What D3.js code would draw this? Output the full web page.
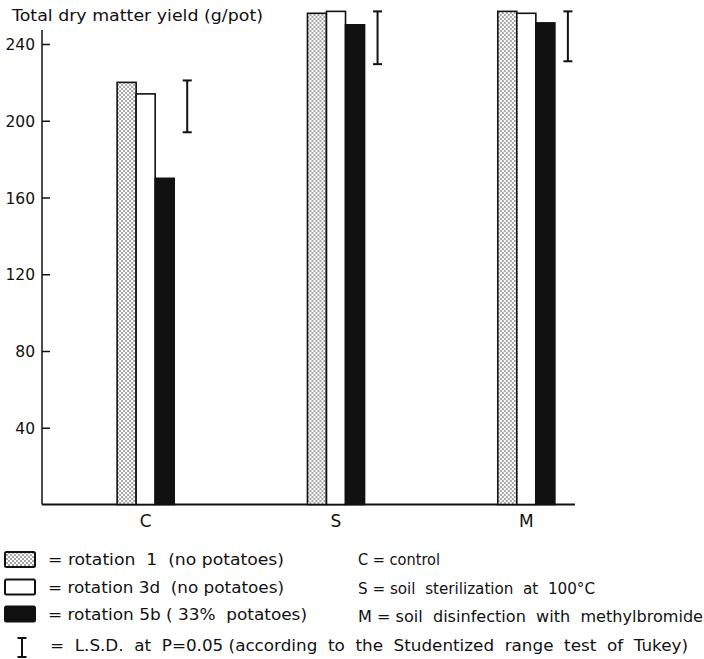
<!DOCTYPE html>
<html>
<head>
<meta charset="utf-8">
<script src="https://cdn.jsdelivr.net/npm/d3@7"></script>
<style>
  body { margin: 0; background: #fff; }
  svg text { font-family: "DejaVu Sans", sans-serif; fill: #111; }
</style>
</head>
<body>
<svg id="chart"></svg>
<script>
// data
const treatments = ["C", "S", "M"];
const rotations = ["rot1", "rot3d", "rot5b"];
const rot1Yield = [220, 256, 257];
const rot3dYield = [214, 257, 256];
const rot5bYield = [170, 250, 251];
const lsdTop = [221, 257, 257];
const lsdBottom = [194, 229.5, 231];
const yTicks = [40, 80, 120, 160, 200, 240];

const rotationLabels = ["= rotation  1  (no potatoes)", "= rotation 3d  (no potatoes)", "= rotation 5b ( 33%  potatoes)"];
const treatmentLabels = ["C = control", "S = soil  sterilization  at  100°C", "M = soil  disinfection  with  methylbromide"];
const lsdLabel = "=  L.S.D.  at  P=0.05 (according  to  the  Studentized  range  test  of  Tukey)";

const width = 704, height = 659;
const svg = d3.select("#chart").attr("width", width).attr("height", height);

const defs = svg.append("defs");
const pat = defs.append("pattern")
  .attr("id", "dots")
  .attr("patternUnits", "userSpaceOnUse")
  .attr("width", 4).attr("height", 4);
pat.append("rect").attr("width", 4).attr("height", 4).attr("fill", "#fff");
pat.append("circle").attr("cx", 1).attr("cy", 1).attr("r", 0.75).attr("fill", "#222");
pat.append("circle").attr("cx", 3).attr("cy", 3).attr("r", 0.75).attr("fill", "#222");

const fills = { rot1: "url(#dots)", rot3d: "#fff", rot5b: "#111" };

const table = treatments.map((t, i) => ({
  group: t, rot1: rot1Yield[i], rot3d: rot3dYield[i], rot5b: rot5bYield[i],
  lsdTop: lsdTop[i], lsdBottom: lsdBottom[i]
}));

const axisX = 42, axisRight = 575;
const yScale = d3.scaleLinear().domain([0, 240]).range([504.5, 44]);

const xScale = d3.scaleBand()
  .domain(treatments)
  .range([50.5, 621.5])
  .paddingInner(0.7)
  .paddingOuter(0.35);

const xInner = d3.scaleBand()
  .domain(rotations)
  .range([0, xScale.bandwidth()])
  .padding(0);

// y axis
const yAxis = d3.axisLeft(yScale).tickValues(yTicks).tickSize(0).tickPadding(7);
const yg = svg.append("g").attr("transform", `translate(${axisX},0)`).call(yAxis);
yg.select(".domain").remove();
yg.selectAll("text").attr("font-size", 15.5).attr("dy", "0.36em");
yg.selectAll(".tick").append("line")
  .attr("x1", 0).attr("x2", 8)
  .attr("stroke", "#111").attr("stroke-width", 1.5);

svg.append("line")
  .attr("x1", axisX).attr("x2", axisX)
  .attr("y1", 30).attr("y2", yScale(0))
  .attr("stroke", "#111").attr("stroke-width", 1.5);

svg.append("line")
  .attr("x1", axisX).attr("x2", axisRight)
  .attr("y1", yScale(0)).attr("y2", yScale(0))
  .attr("stroke", "#111").attr("stroke-width", 2);

svg.append("text")
  .attr("x", 12).attr("y", 21)
  .attr("font-size", 15)
  .attr("textLength", 251).attr("lengthAdjust", "spacingAndGlyphs")
  .text("Total dry matter yield (g/pot)");

// bars
const groups = svg.selectAll(".grp")
  .data(table)
  .join("g")
  .attr("class", "grp")
  .attr("transform", d => `translate(${xScale(d.group)},0)`);

groups.selectAll("rect")
  .data(d => rotations.map(k => ({ key: k, value: d[k] })))
  .join("rect")
  .attr("x", d => xInner(d.key))
  .attr("y", d => yScale(d.value))
  .attr("width", xInner.bandwidth())
  .attr("height", d => yScale(0) - yScale(d.value))
  .attr("fill", d => fills[d.key])
  .attr("stroke", "#111")
  .attr("stroke-width", 1.6);

// LSD bars, to the right of each group
const lsd = groups.append("g")
  .attr("transform", `translate(${xScale.bandwidth() + 13},0)`);
lsd.append("line")
  .attr("y1", d => yScale(d.lsdTop)).attr("y2", d => yScale(d.lsdBottom))
  .attr("stroke", "#111").attr("stroke-width", 2);
lsd.selectAll(".cap")
  .data(d => [d.lsdTop, d.lsdBottom])
  .join("line")
  .attr("class", "cap")
  .attr("x1", -4.5).attr("x2", 4.5)
  .attr("y1", d => yScale(d)).attr("y2", d => yScale(d))
  .attr("stroke", "#111").attr("stroke-width", 2);

// category labels
svg.selectAll(".catlab")
  .data(treatments)
  .join("text")
  .attr("class", "catlab")
  .attr("x", d => xScale(d) + xScale.bandwidth() / 2)
  .attr("y", 527)
  .attr("text-anchor", "middle")
  .attr("font-size", 17)
  .text(d => d);

// legend
const rowY = [565, 592.5, 620];
const swatchTop = [552, 579.5, 606.5];
const legWidths = [236, 236, 259];

rotations.forEach((k, i) => {
  svg.append("rect")
    .attr("x", 5).attr("y", swatchTop[i])
    .attr("width", 30).attr("height", 15)
    .attr("rx", 1.5)
    .attr("fill", fills[k])
    .attr("stroke", "#111").attr("stroke-width", 2);
  svg.append("text")
    .attr("x", 48).attr("y", rowY[i])
    .attr("font-size", 16)
    .attr("textLength", legWidths[i]).attr("lengthAdjust", "spacingAndGlyphs")
    .style("white-space", "pre")
    .text(rotationLabels[i]);
});

const rightY = [565, 594, 622];
const rightWidths = [82, 237, 345];
treatmentLabels.forEach((t, i) => {
  svg.append("text")
    .attr("x", 358).attr("y", rightY[i])
    .attr("font-size", 16)
    .attr("textLength", rightWidths[i]).attr("lengthAdjust", "spacingAndGlyphs")
    .style("white-space", "pre")
    .text(t);
});

// LSD key
svg.append("line").attr("x1", 22).attr("x2", 22).attr("y1", 638).attr("y2", 657)
  .attr("stroke", "#111").attr("stroke-width", 2);
[638, 657].forEach(y => svg.append("line")
  .attr("x1", 17.5).attr("x2", 26.5).attr("y1", y).attr("y2", y)
  .attr("stroke", "#111").attr("stroke-width", 2));
svg.append("text")
  .attr("x", 50).attr("y", 651)
  .attr("font-size", 16)
  .attr("textLength", 638).attr("lengthAdjust", "spacingAndGlyphs")
  .style("white-space", "pre")
  .text(lsdLabel);
</script>
</body>
</html>
